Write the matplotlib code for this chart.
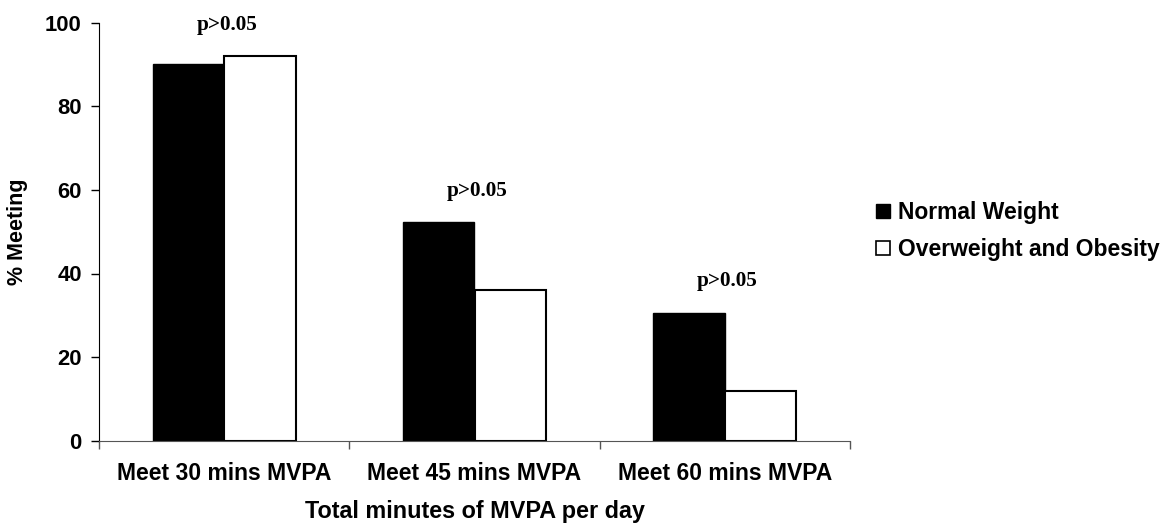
import matplotlib
matplotlib.use("Agg")
import matplotlib.pyplot as plt
from matplotlib.patches import Patch
import numpy as np

categories = ["Meet 30 mins MVPA", "Meet 45 mins MVPA", "Meet 60 mins MVPA"]
normal_weight = [90, 52.3, 30.6]
overweight_obesity = [92, 36, 12]
series_names = ["Normal Weight", "Overweight and Obesity"]
p_labels = ["p>0.05", "p>0.05", "p>0.05"]
yticks = [0, 20, 40, 60, 80, 100]

plt.rcParams['font.family'] = ['Liberation Sans', 'DejaVu Sans']
plt.rcParams['font.weight'] = 'bold'

fig = plt.figure(figsize=(11.73, 5.27), dpi=100)
ax = fig.add_axes([99/1173, 1 - 440.7/527, (850 - 99)/1173, (440.7 - 22.7)/527])

x = np.arange(len(categories))
w = 0.285
ax.bar(x - w/2, normal_weight, width=w, color='black', edgecolor='black', linewidth=1.0)
ax.bar(x + w/2, overweight_obesity, width=w, color='white', edgecolor='black', linewidth=1.5)

for xi, a, b, lab in zip(x, normal_weight, overweight_obesity, p_labels):
    ax.text(xi + 0.01, max(a, b) + 7.5, lab, ha='center', va='center',
            family=['Liberation Serif', 'DejaVu Serif'], fontweight='bold', fontsize=15.3)

ax.set_xlim(-0.5, len(categories) - 0.5)
ax.set_ylim(0, 100)
ax.set_yticks(yticks)
ax.set_yticklabels([str(t) for t in yticks], fontsize=15.8, fontweight='bold')
ax.set_xticks(x)
ax.set_xticklabels(categories, fontsize=16.5, fontweight='bold')
ax.set_xticks(np.arange(len(categories) + 1) - 0.5, minor=True)
ax.tick_params(axis='x', which='major', length=0, pad=15)
ax.tick_params(axis='x', which='minor', length=6, width=1, direction='out', color='#555555')
ax.tick_params(axis='y', which='major', length=5.5, width=1, direction='out', pad=7)

for s in ['top', 'right']:
    ax.spines[s].set_visible(False)
ax.spines['left'].set_color('black')
ax.spines['bottom'].set_color('#555555')

ax.set_ylabel("% Meeting", fontsize=15.5, fontweight='bold', labelpad=12)
ax.set_xlabel("Total minutes of MVPA per day", fontsize=16.8, fontweight='bold', labelpad=11)

handles = [Patch(facecolor='black', edgecolor='black'),
           Patch(facecolor='white', edgecolor='black', linewidth=1.2)]
fig.legend(handles, series_names, loc='center left', bbox_to_anchor=(876/1173, 1 - 231/527),
           frameon=False, handlelength=0.6, handleheight=0.6,
           handletextpad=0.35, labelspacing=0.6, borderpad=0, borderaxespad=0,
           prop={'weight': 'bold', 'size': 16.5})

fig.savefig("out.png", dpi=100, facecolor='white')
